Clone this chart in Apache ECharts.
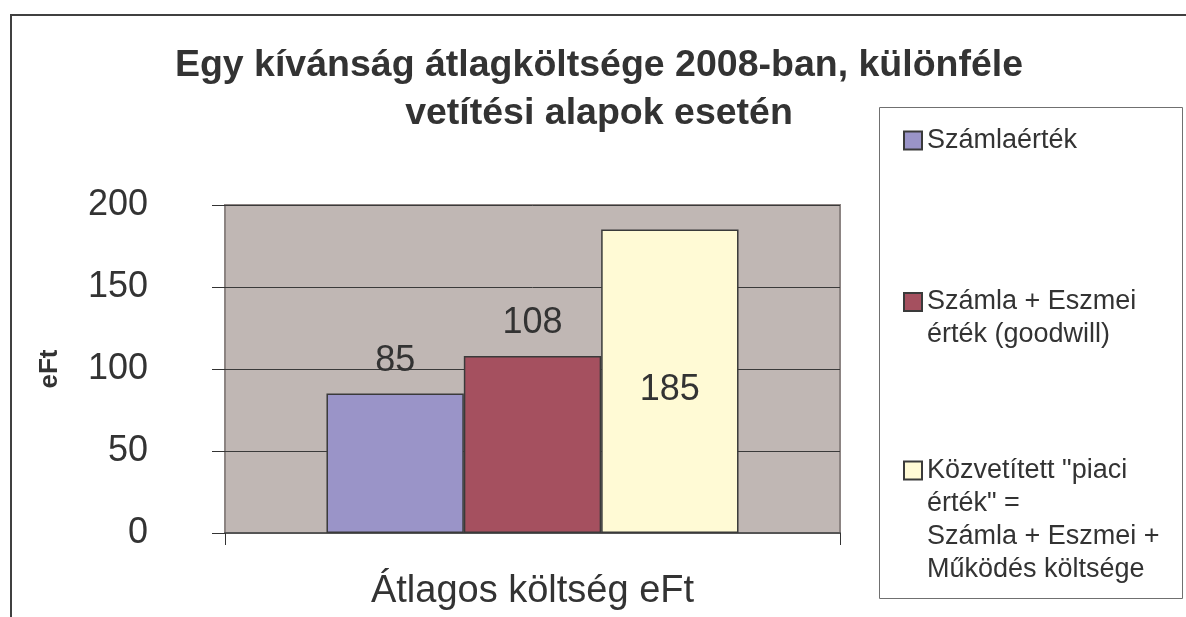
<!DOCTYPE html>
<html>
<head>
<meta charset="utf-8">
<script src="https://cdn.jsdelivr.net/npm/echarts@6/dist/echarts.min.js"></script>
<style>
html,body{margin:0;padding:0;background:#fff;}
#chart{width:1186px;height:617px;}
</style>
</head>
<body>
<div id="chart"></div>
<script>
// ---- data ----
var categories = ['Átlagos költség eFt'];
var seriesNames = [
  'Számlaérték',
  'Számla + Eszmei\nérték (goodwill)',
  'Közvetített "piaci\nérték" =\nSzámla + Eszmei +\nMűködés költsége'
];
var seriesValues = [[85], [108], [185]];
var seriesColors = ['#9A94C8', '#A5505F', '#FFFAD5'];
var yTicks = [0, 50, 100, 150, 200];
var titleText = 'Egy kívánság átlagköltsége 2008-ban, különféle\nvetítési alapok esetén';
var yAxisName = 'eFt';

// ---- chart ----
var chart = echarts.init(document.getElementById('chart'), null, {renderer: 'canvas'});
var FONT = 'Liberation Sans, Arial, sans-serif';
var TXT = '#333333';
var LH = 33;

var iconCenters = [140.5, 302, 470.5];
var legends = seriesNames.map(function (name, i) {
  var nLines = name.split('\n').length;
  var totalLines = 2 * nLines - 1;
  return {
    data: [name],
    orient: 'vertical',
    left: 903,
    top: iconCenters[i] - totalLines * LH / 2,
    padding: 0,
    itemWidth: 18,
    itemHeight: 18,
    icon: 'rect',
    selectedMode: false,
    formatter: function (n) {
      var pre = '';
      for (var k = 1; k < nLines; k++) pre += '\n';
      return pre + n;
    },
    textStyle: {
      fontFamily: FONT,
      fontSize: 27,
      color: TXT,
      lineHeight: LH
    }
  };
});

var series = seriesNames.map(function (name, i) {
  return {
    name: name,
    type: 'bar',
    barGap: '0%',
    barCategoryGap: '33%',
    data: seriesValues[i],
    itemStyle: {color: seriesColors[i], borderColor: '#3a3a3a', borderWidth: 1.5},
    label: i === 2 ? {
      show: true, position: 'inside', offset: [0, 9],
      fontFamily: FONT, fontSize: 36, color: TXT
    } : {
      show: true, position: 'top', distance: 15,
      fontFamily: FONT, fontSize: 36, color: TXT
    },
    emphasis: {disabled: true}
  };
});

var option = {
  backgroundColor: '#ffffff',
  animation: false,
  title: {
    text: titleText,
    left: 599,
    textAlign: 'center',
    top: 42,
    padding: 0,
    textStyle: {
      fontFamily: FONT, fontSize: 37.5, fontWeight: 'bold', color: TXT, lineHeight: 48
    }
  },
  legend: legends,
  graphic: [
    {type: 'polyline', shape: {points: [[11, 617], [11, 15], [1186, 15]]},
     style: {stroke: '#404040', lineWidth: 2, fill: null}, silent: true},
    {type: 'rect', shape: {x: 879.5, y: 107.5, width: 303, height: 491},
     style: {stroke: '#707070', lineWidth: 1, fill: null}, silent: true, z: -1}
  ],
  grid: {
    left: 225, right: 346, top: 205, bottom: 84,
    show: true, backgroundColor: '#C0B7B4', borderColor: '#8c8482', borderWidth: 2
  },
  xAxis: {
    type: 'category',
    data: categories,
    axisLine: {show: true, lineStyle: {color: '#555555', width: 2}},
    axisTick: {show: true, length: 12, lineStyle: {color: '#333333'}},
    axisLabel: {fontFamily: FONT, fontSize: 38, color: TXT, margin: 40}
  },
  yAxis: {
    type: 'value',
    min: yTicks[0],
    max: yTicks[yTicks.length - 1],
    interval: yTicks[1] - yTicks[0],
    name: yAxisName,
    nameLocation: 'middle',
    nameGap: 162,
    nameRotate: 90,
    nameTextStyle: {fontFamily: FONT, fontSize: 26, fontWeight: 'bold', color: TXT},
    axisLine: {show: false},
    axisTick: {show: true, length: 13, lineStyle: {color: '#333333'}},
    axisLabel: {fontFamily: FONT, fontSize: 36, color: TXT, margin: 77},
    splitLine: {show: true, lineStyle: {color: '#3a3a3a', width: 1}}
  },
  series: series
};
chart.setOption(option);
</script>
</body>
</html>
